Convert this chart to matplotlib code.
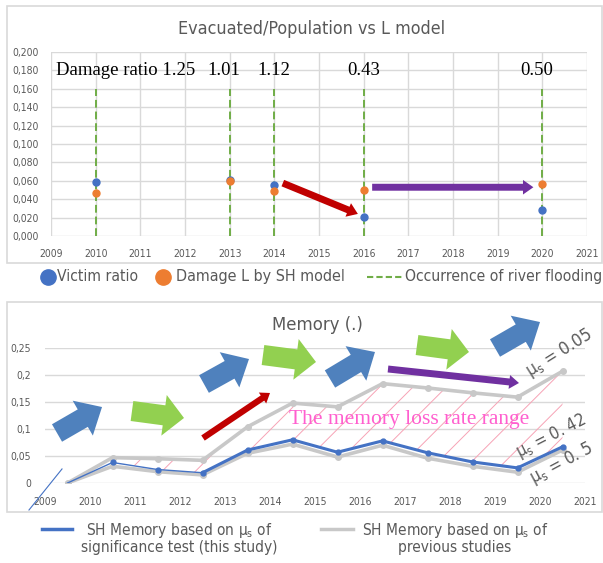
import matplotlib
matplotlib.use('Agg')
import matplotlib.pyplot as plt
from matplotlib.lines import Line2D
from matplotlib.patches import Rectangle
from matplotlib.ticker import FuncFormatter, MultipleLocator

# ---------------- data ----------------
flood_years = [2010, 2013, 2014, 2016, 2020]
victim_ratio = [0.059, 0.061, 0.055, 0.021, 0.028]
damage_L = [0.047, 0.060, 0.049, 0.050, 0.057]
damage_ratio_text = ['Damage ratio 1.25', '1.01', '1.12', '0.43', '0.50']
damage_ratio_x = [2010.68, 2012.87, 2014.0, 2016.0, 2019.88]

mem_x = [2009.5, 2010.5, 2011.5, 2012.5, 2013.5, 2014.5, 2015.5, 2016.5,
         2017.5, 2018.5, 2019.5, 2020.5]
mem_this_study = [0.0, 0.038, 0.025, 0.019, 0.061, 0.080, 0.057, 0.078,
                  0.056, 0.039, 0.028, 0.067]
mem_prev_005 = [0.0, 0.047, 0.045, 0.042, 0.104, 0.148, 0.141, 0.184,
                0.176, 0.167, 0.159, 0.207]
mem_prev_05 = [0.0, 0.031, 0.021, 0.015, 0.055, 0.072, 0.048, 0.070,
               0.046, 0.031, 0.020, 0.061]

SANS = ['DejaVu Sans']
SERIF = ['Liberation Serif', 'DejaVu Serif']
GRAY_TXT = '#595959'
GRID = '#d9d9d9'
BLUE = '#4472c4'
ORANGE = '#ed7d31'
GREEN_DASH = '#70ad47'
LGRAY = '#c8c8c8'
ARROW_BLUE = '#4f81bd'
ARROW_GREEN = '#92d050'
RED = '#c00000'
PURPLE = '#7030a0'

plt.rcParams['font.family'] = SANS
plt.rcParams['font.stretch'] = 'condensed'
plt.rcParams['hatch.linewidth'] = 0.7

W, H = 603, 563
fig = plt.figure(figsize=(W / 100, H / 100), dpi=100)


def fx(px):
    return px / W


def fy(py):
    return 1 - py / H


def block_arrow(ax, tail, tip, color, tw, hw, hl):
    ax.annotate('', xy=tip, xytext=tail, xycoords='data', textcoords='data',
                annotation_clip=False,
                arrowprops=dict(arrowstyle=f'simple,head_length={hl},head_width={hw},tail_width={tw}',
                                color=color, lw=0, shrinkA=0, shrinkB=0,
                                mutation_scale=1))


fit_list = []  # (text artist, target width px, final rotation)


def fitted(t, width_px, rotation=0):
    fit_list.append((t, width_px, rotation))
    return t


# border boxes
for (x0, y0, x1, y1) in [(7, 6, 602, 263), (7, 302, 602, 512)]:
    fig.patches.append(Rectangle((fx(x0), fy(y1)), fx(x1) - fx(x0), fy(y0) - fy(y1),
                                 transform=fig.transFigure, fill=False,
                                 edgecolor=GRID, lw=1.2))

# ---------------- top chart ----------------
ax1 = fig.add_axes([fx(51), fy(236), fx(587) - fx(51), fy(52) - fy(236)])
ax1.set_xlim(2009, 2021)
ax1.set_ylim(0, 0.2)
ax1.xaxis.set_major_locator(MultipleLocator(1))
ax1.yaxis.set_major_locator(MultipleLocator(0.02))
ax1.yaxis.set_major_formatter(FuncFormatter(lambda v, _: f'{v:.3f}'.replace('.', ',')))
ax1.grid(True, color=GRID, lw=1)
ax1.set_axisbelow(True)
for s in ax1.spines.values():
    s.set_visible(False)
ax1.tick_params(length=0, labelsize=7.5, labelcolor=GRAY_TXT, pad=9)

ax1.vlines(flood_years, 0, 0.16, colors=GREEN_DASH, linestyles=(0, (4, 2)), lw=1.4, zorder=2)
ax1.plot(flood_years, victim_ratio, 'o', color=BLUE, ms=5, zorder=4)
ax1.plot(flood_years, damage_L, 'o', color=ORANGE, ms=5, zorder=4)
for t, x in zip(damage_ratio_text, damage_ratio_x):
    ax1.text(x, 0.18, t, ha='center', va='center', family=SERIF, fontsize=13.5, color='black')

block_arrow(ax1, (2014.19, 0.0575), (2015.87, 0.024), RED, 5.0, 10.5, 7.5)
block_arrow(ax1, (2016.19, 0.053), (2019.8, 0.053), PURPLE, 5.0, 10.5, 7.5)

fitted(fig.text(fx(312), fy(29), 'Evacuated/Population vs L model', ha='center', va='center',
                fontsize=14, color=GRAY_TXT), 268)

# top legend
ly = fy(277)
fig.add_artist(Line2D([fx(48)], [ly], marker='o', ms=11, color=BLUE, ls='none',
                      transform=fig.transFigure))
fitted(fig.text(fx(57), ly, 'Victim ratio', ha='left', va='center', fontsize=13,
                color=GRAY_TXT), 81)
fig.add_artist(Line2D([fx(163)], [ly], marker='o', ms=11, color=ORANGE, ls='none',
                      transform=fig.transFigure))
fitted(fig.text(fx(176), ly, 'Damage L by SH model', ha='left', va='center', fontsize=13,
                color=GRAY_TXT), 170)
fig.add_artist(Line2D([fx(367), fx(403)], [ly, ly], color=GREEN_DASH, ls=(0, (3, 1.5)), lw=1.5,
                      transform=fig.transFigure))
fitted(fig.text(fx(405), ly, 'Occurrence of river flooding', ha='left', va='center', fontsize=13,
                color=GRAY_TXT), 196)

# ---------------- bottom chart ----------------
ax2 = fig.add_axes([fx(45), fy(483), fx(585) - fx(45), fy(348) - fy(483)])
ax2.set_xlim(2009, 2021)
ax2.set_ylim(0, 0.25)
ax2.xaxis.set_major_locator(MultipleLocator(1))
ax2.yaxis.set_major_locator(MultipleLocator(0.05))
ax2.yaxis.set_major_formatter(FuncFormatter(lambda v, _: f'{round(v, 2):g}'.replace('.', ',')))
ax2.grid(True, axis='y', color=GRID, lw=1)
ax2.set_axisbelow(True)
for s in ax2.spines.values():
    s.set_visible(False)
ax2.tick_params(length=0, labelsize=7.5, labelcolor=GRAY_TXT, pad=10)

ax2.fill_between(mem_x[1:], mem_prev_005[1:], mem_this_study[1:], facecolor='none',
                 edgecolor='#f7a3b5', hatch='/', lw=0, zorder=1)
ax2.plot(mem_x, mem_prev_005, '-o', color=LGRAY, lw=2.6, ms=4, zorder=3)
ax2.plot(mem_x, mem_prev_05, '-o', color=LGRAY, lw=2.6, ms=4, zorder=3)
ax2.plot(mem_x[:4], mem_this_study[:4], '-', color=BLUE, lw=1.0, zorder=4)
ax2.plot(mem_x[3:], mem_this_study[3:], '-', color=BLUE, lw=2.2, zorder=4)
ax2.plot(mem_x[1:], mem_this_study[1:], 'o', color=BLUE, ms=3.5, zorder=5)

# thin blue stroke at lower left
ax2.plot([2008.644, 2009.378], [-0.05, 0.026], color=BLUE, lw=0.8, clip_on=False)

# block arrows
for tail, tip in [((2009.267, 0.0926), (2010.267, 0.1407)),
                  ((2012.533, 0.1833), (2013.533, 0.2296)),
                  ((2015.333, 0.1926), (2016.333, 0.2426)),
                  ((2019.0, 0.25), (2020.0, 0.2981))]:
    block_arrow(ax2, tail, tip, ARROW_BLUE, 14.5, 29, 16)
for tail, tip in [((2010.933, 0.1333), (2012.089, 0.1204)),
                  ((2013.844, 0.237), (2015.022, 0.2241)),
                  ((2017.267, 0.2555), (2018.422, 0.2426))]:
    block_arrow(ax2, tail, tip, ARROW_GREEN, 14.5, 29.5, 14.5)
block_arrow(ax2, (2012.511, 0.0833), (2014.0, 0.1667), RED, 4.5, 9.5, 6.5)
block_arrow(ax2, (2016.622, 0.2111), (2019.533, 0.1852), PURPLE, 5, 10, 7)

ax2.text(2017.09, 0.117, 'The memory loss rate range', ha='center', va='center',
         family=SERIF, fontsize=15.5, color='#ff5fcf', zorder=6)
fitted(ax2.text(2020.44, 0.241, r'$\mathregular{\mu_s}$ = 0.05', ha='center', va='center',
                fontsize=13, color=GRAY_TXT, clip_on=False), 75, 32)
fitted(ax2.text(2020.24, 0.087, r'$\mathregular{\mu_s}$ = 0. 42', ha='center', va='center',
                fontsize=13, color=GRAY_TXT, clip_on=False), 76, 27)
fitted(ax2.text(2020.49, 0.037, r'$\mathregular{\mu_s}$ = 0. 5', ha='center', va='center',
                fontsize=13, color=GRAY_TXT, clip_on=False), 69, 28)

fitted(fig.text(fx(317), fy(325), 'Memory (.)', ha='center', va='center', fontsize=14,
                color=GRAY_TXT), 91)

# bottom legend
fig.add_artist(Line2D([fx(42), fx(72)], [fy(529), fy(529)], color=BLUE, lw=2.5,
                      transform=fig.transFigure))
fitted(fig.text(fx(179), fy(538), 'SH Memory based on $\\mathregular{\\mu_s}$ of\nsignificance test (this study)',
                ha='center', va='center', fontsize=13, color=GRAY_TXT, linespacing=1.05), 196)
fig.add_artist(Line2D([fx(321), fx(353)], [fy(529), fy(529)], color=LGRAY, lw=2.5,
                      transform=fig.transFigure))
fitted(fig.text(fx(455), fy(538), 'SH Memory based on $\\mathregular{\\mu_s}$ of\nprevious studies',
                ha='center', va='center', fontsize=13, color=GRAY_TXT, linespacing=1.05), 186)

# size texts to their measured target widths
fig.canvas.draw()
renderer = fig.canvas.get_renderer()
for t, wpx, rot in fit_list:
    bb = t.get_window_extent(renderer)
    t.set_fontsize(t.get_fontsize() * wpx / bb.width)
    t.set_rotation(rot)

fig.savefig('out.png', dpi=100)
